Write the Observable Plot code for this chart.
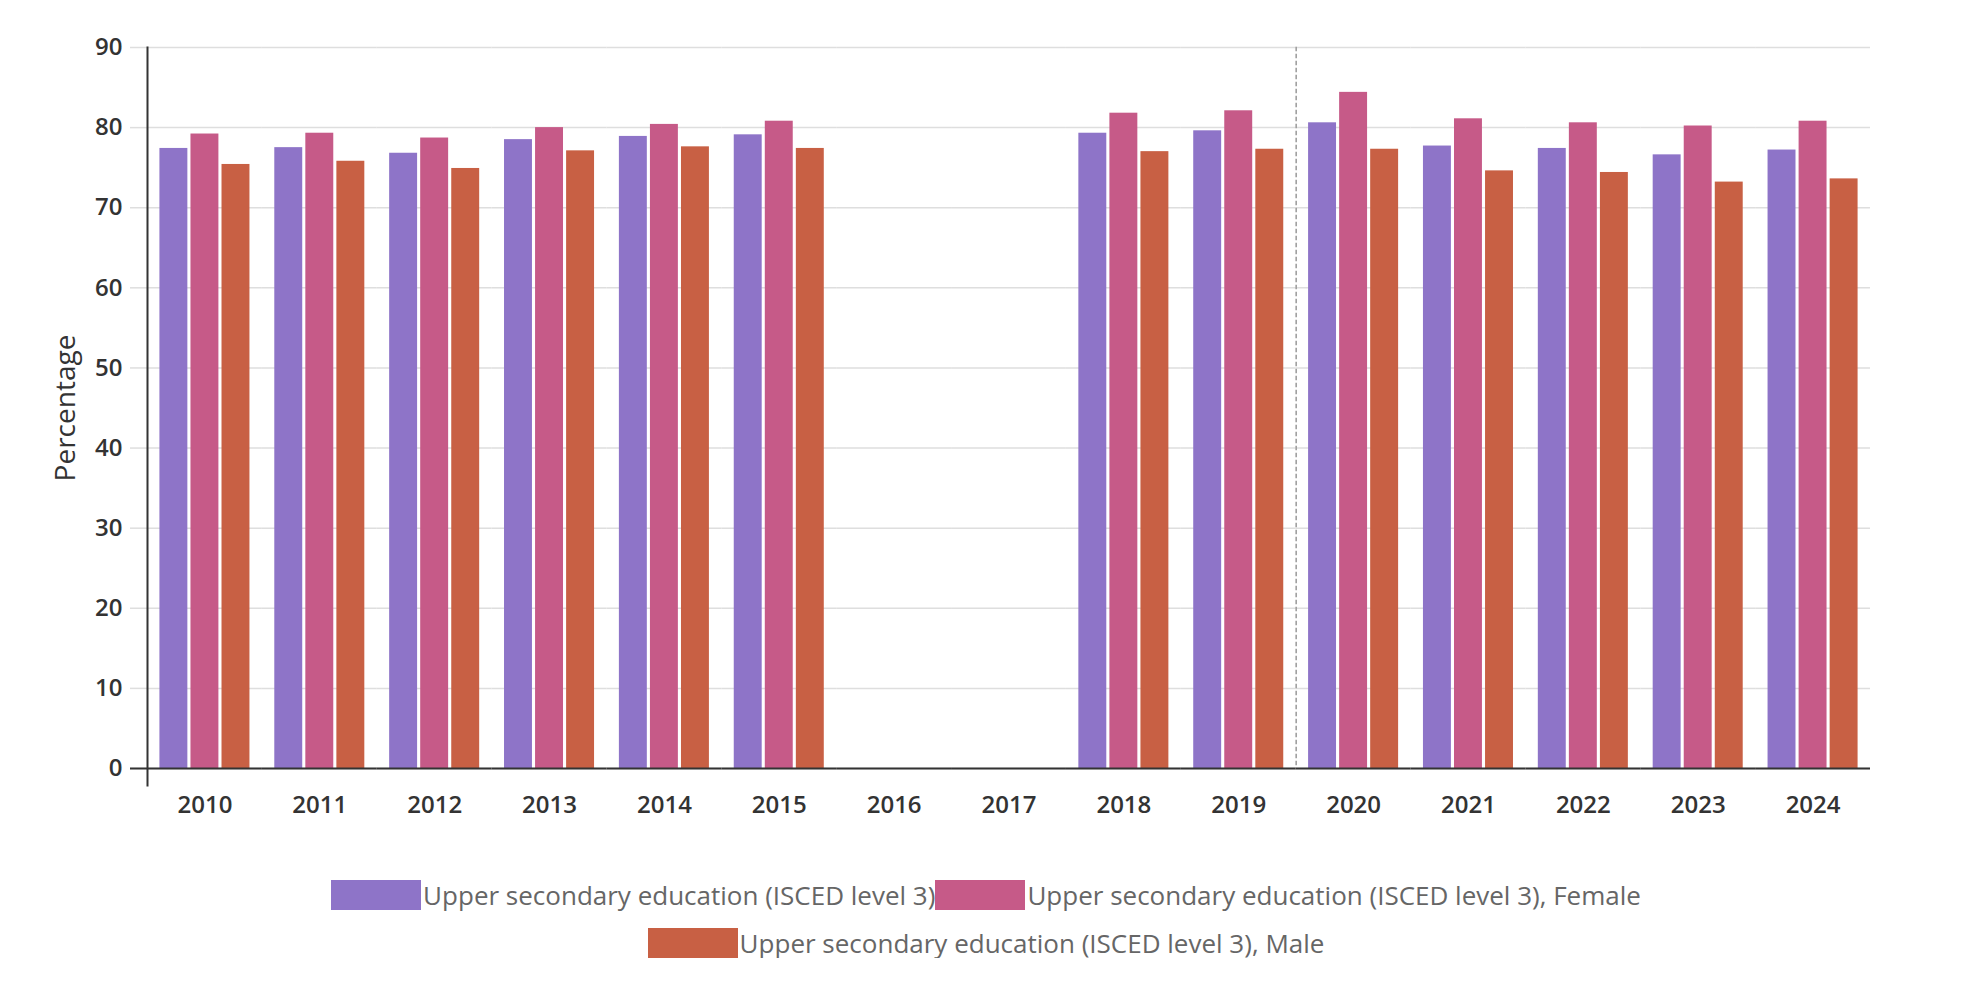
<!DOCTYPE html>
<html>
<head>
<meta charset="utf-8">
<script src="https://cdn.jsdelivr.net/npm/d3@7"></script>
<script src="https://cdn.jsdelivr.net/npm/@observablehq/plot@0.6"></script>
<style>
  body { margin: 0; background: #fff; font-family: "Open Sans", sans-serif; }
  #legend { display: flex; flex-wrap: wrap; justify-content: center; width: 1700px; margin-left: 136px; margin-top: 40px; row-gap: 18px; }
  .item { display: flex; align-items: center; height: 30px; font-size: 26px; color: #666; white-space: nowrap; }
  .sw { width: 90px; height: 30px; margin-right: 2px; }
</style>
</head>
<body>
<div id="chart"></div>
<div id="legend"></div>
<script>
const years = [2010, 2011, 2012, 2013, 2014, 2015, 2016, 2017, 2018, 2019, 2020, 2021, 2022, 2023, 2024];
const seriesNames = [
  "Upper secondary education (ISCED level 3)",
  "Upper secondary education (ISCED level 3), Female",
  "Upper secondary education (ISCED level 3), Male"
];
const seriesColors = ["#8e74c8", "#c65a88", "#c86044"];
const totalValues  = [77.4, 77.5, 76.8, 78.5, 78.9, 79.1, null, null, 79.3, 79.6, 80.6, 77.7, 77.4, 76.6, 77.2];
const femaleValues = [79.2, 79.3, 78.7, 80.0, 80.4, 80.8, null, null, 81.8, 82.1, 84.4, 81.1, 80.6, 80.2, 80.8];
const maleValues   = [75.4, 75.8, 74.9, 77.1, 77.6, 77.4, null, null, 77.0, 77.3, 77.3, 74.6, 74.4, 73.2, 73.6];
const yTicks = [0, 10, 20, 30, 40, 50, 60, 70, 80, 90];
const dividerYear = [2020];

const valueLists = [totalValues, femaleValues, maleValues];
const rows = years.flatMap((year, i) =>
  seriesNames.map((series, s) => ({year, series, value: valueLists[s][i]}))
).filter(d => d.value != null);
// one gridline record per facet so that empty years still get gridlines
const gridRows = years.flatMap(year => yTicks.map(tick => ({year, tick})));

const chart = Plot.plot({
  width: 1968,
  height: 840,
  marginLeft: 147,
  marginRight: 98,
  marginTop: 47,
  marginBottom: 72,
  style: {fontFamily: "Open Sans, sans-serif", background: "#fff", color: "#333"},
  fx: {domain: years, padding: 0, paddingInner: 0, paddingOuter: 0, round: false, label: null},
  x: {domain: seriesNames, paddingInner: 0.1, paddingOuter: 0.4, round: false, axis: null},
  y: {domain: [0, 90], label: null},
  color: {domain: seriesNames, range: seriesColors},
  marks: [
    Plot.ruleY(gridRows, {fx: "year", y: "tick", stroke: "#dedede", strokeWidth: 1.5}),
    Plot.axisY(yTicks, {
      tickSize: 17, tickPadding: 8, stroke: "#dedede", strokeWidth: 1.5, fill: "#333",
      fontSize: 24, fontWeight: 600, label: null, tickFormat: d => String(d)
    }),
    Plot.axisY([0], {
      tickSize: 17, stroke: "#333", strokeWidth: 2, label: null, tickFormat: () => ""
    }),
    Plot.axisY([], {
      label: "Percentage", labelAnchor: "center", labelArrow: "none", labelOffset: 92,
      fontSize: 28, fill: "#333", tickSize: 0
    }),
    Plot.barY(rows, {fx: "year", x: "series", y: "value", fill: "series"}),
    Plot.frame({anchor: "left", fx: dividerYear, stroke: "#999", strokeWidth: 1.5, strokeDasharray: "3,4"}),
    Plot.ruleY(years.map(year => ({year, base: 0})), {fx: "year", y: "base", stroke: "#333", strokeWidth: 2}),
    Plot.frame({facet: "super", anchor: "left", stroke: "#333", strokeWidth: 2, insetBottom: -17}),
    Plot.axisFx({
      anchor: "bottom", tickSize: 0, tickPadding: 27, fontSize: 24, fontWeight: 600,
      fill: "#333", label: null, tickFormat: d => String(d)
    })
  ]
});
document.getElementById("chart").appendChild(chart);

const legend = d3.select("#legend");
seriesNames.forEach((name, i) => {
  const item = legend.append("div").attr("class", "item");
  item.append("div").attr("class", "sw").style("background", seriesColors[i]);
  item.append("span").text(name);
});
</script>
</body>
</html>
